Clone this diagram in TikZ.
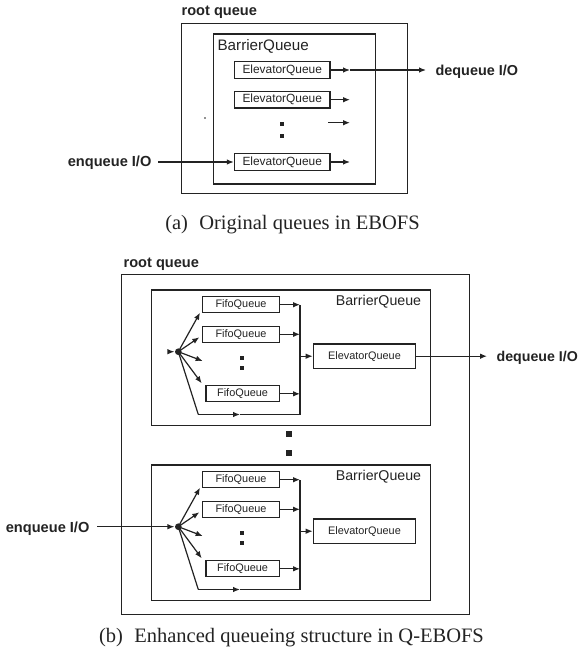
\documentclass[tikz,border=0pt]{standalone}
\usepackage{fontspec}
\setmainfont{Liberation Serif}
\setsansfont{Liberation Sans}
\usetikzlibrary{arrows.meta}
\definecolor{ink}{RGB}{35,35,35}
\begin{document}
\begin{tikzpicture}[x=1pt,y=-1pt,line width=1.2pt,draw=ink,text=ink,
  frame/.style={draw=ink,line width=1.2pt,inner sep=0pt,anchor=north west},
  qbox/.style={draw=ink,line width=1.2pt,inner sep=0pt,font=\sffamily\fontsize{10.9}{11}\selectfont},
  ebox/.style={qbox,font=\sffamily\fontsize{11.9}{12}\selectfont,minimum width=95.7pt,minimum height=16.6pt},
  lbl/.style={inner sep=0pt,font=\sffamily\bfseries\fontsize{14.6}{15}\selectfont},
  captext/.style={inner sep=0pt,font=\fontsize{20.5}{21}\selectfont,anchor=base},
  arr/.style={-{Latex[length=7pt,width=5.6pt]}},
  sq/.style={fill=ink,draw=none,inner sep=0pt,minimum size=#1},
  hubdot/.style={circle,fill=ink,draw=none,inner sep=0pt,minimum size=6.6pt}]
\useasboundingbox (0,0) rectangle (580,657);

% ---------------- (a) ----------------
\node[lbl,anchor=base west] (rootlblA) at (181,15.5) {root queue};
\node[frame,minimum width=226pt,minimum height=170pt] (rootA) at (181,22.5) {};
\node[frame,minimum width=162.3pt,minimum height=150pt] (barA) at (212.7,33.3) {};
\node[inner sep=0pt,anchor=base west,font=\sffamily\fontsize{15.2}{16}\selectfont] (barlblA) at (217,50) {BarrierQueue};
\node[ebox] (e1) at (282.2,70) {ElevatorQueue};
\node[ebox] (e2) at (282.2,99.7) {ElevatorQueue};
\node[ebox] (e3) at (282.2,162) {ElevatorQueue};
\coordinate (m1) at (350,70);
\coordinate (deqA) at (426,70);
\coordinate (m2) at (350,99.7);
\coordinate (r3s) at (328,122.7);
\coordinate (r3e) at (350,122.7);
\coordinate (m3) at (350,162);
\coordinate (enqA) at (158,162);
\draw[arr] (e1.east) -- (m1);
\draw[arr] (m1) -- (deqA);
\draw[arr] (e2.east) -- (m2);
\draw[arr] (r3s) -- (r3e);
\draw[arr] (e3.east) -- (m3);
\draw[arr] (enqA) -- (e3.west);
\node[lbl,anchor=base west,font=\sffamily\bfseries\fontsize{14.4}{15}\selectfont] (deqlblA) at (435,75.3) {dequeue I/O};
\node[lbl,anchor=base east] (enqlblA) at (152,166.5) {enqueue I/O};
\node[sq=3.8pt] (dA1) at (282.3,124.3) {};
\node[sq=3.8pt] (dA2) at (282.3,135.7) {};
\node[circle,fill=ink,inner sep=0pt,minimum size=1.6pt] (stray) at (205,118) {};
\node[captext] (capA) at (292.5,229.5) {(a)\hspace{0.55em}Original queues in EBOFS};

% ---------------- (b) ----------------
\node[lbl,anchor=base west] (rootlblB) at (123,267) {root queue};
\node[frame,minimum width=348.3pt,minimum height=340pt] (rootB) at (120.7,274) {};
\foreach \k/\dy in {a/0,b/175}{
  \begin{scope}[shift={(0,\dy)}]
    \node[frame,minimum width=278.5pt,minimum height=135.7pt] (bar\k) at (151,289.3) {};
    \node[inner sep=0pt,anchor=base east,font=\sffamily\fontsize{14.2}{15}\selectfont] (barlbl\k) at (421.7,305) {BarrierQueue};
    \node[qbox,minimum width=76.6pt,minimum height=16pt] (f\k1) at (241,304.7) {FifoQueue};
    \node[qbox,minimum width=76.6pt,minimum height=16pt] (f\k2) at (241,334.3) {FifoQueue};
    \node[qbox,minimum width=73.3pt,minimum height=16pt] (f\k3) at (242.6,393.8) {FifoQueue};
    \node[qbox,minimum width=102.4pt,minimum height=24.3pt] (el\k) at (364.5,356.2) {ElevatorQueue};
    \node[hubdot] (hub\k) at (178.3,351.7) {};
    \coordinate (t\k1) at (200,312.7);
    \coordinate (t\k2) at (199.3,337.3);
    \coordinate (t\k3) at (202.7,361);
    \coordinate (t\k4) at (201.7,383.3);
    \coordinate (bl\k) at (198.3,414.5);
    \coordinate (bm\k) at (240,414.5);
    \coordinate (cb\k) at (300,414.5);
    \coordinate (ct\k) at (300,304.7);
    \coordinate (ce\k) at (300,356.2);
    \draw[arr] (hub\k.center) -- (t\k1);
    \draw[arr] (hub\k.center) -- (t\k2);
    \draw[arr] (hub\k.center) -- (t\k3);
    \draw[arr] (hub\k.center) -- (t\k4);
    \draw (hub\k.center) -- (bl\k);
    \draw[arr] (bl\k) -- (bm\k);
    \draw (bm\k) -- (cb\k) -- (ct\k);
    \draw[arr] (f\k1.east) -- (f\k1.east -| ct\k);
    \draw[arr] (f\k2.east) -- (f\k2.east -| ct\k);
    \draw[arr] (f\k3.east) -- (f\k3.east -| ct\k);
    \draw[arr] (ce\k) -- (el\k.west);
    \node[sq=3.8pt] (dd\k1) at (241.7,357.7) {};
    \node[sq=3.8pt] (dd\k2) at (241.7,368.3) {};
  \end{scope}
}
\coordinate (stub) at (171,351.7);
\draw[arr] (stub) -- (huba.west);
\coordinate (deqB) at (487,356.2);
\draw[arr] (ela.east) -- (deqB);
\node[lbl,anchor=base west,font=\sffamily\bfseries\fontsize{14.2}{15}\selectfont] (deqlblB) at (496,361.5) {dequeue I/O};
\coordinate (enqB) at (97,526.7);
\draw[arr] (enqB) -- (hubb.west);
\node[lbl,anchor=base east] (enqlblB) at (90,532) {enqueue I/O};
\node[sq=6pt] (sep1) at (289.3,434) {};
\node[sq=6pt] (sep2) at (289.3,453.3) {};
\node[captext] (capB) at (291.5,642) {(b)\hspace{0.55em}Enhanced queueing structure in Q-EBOFS};
\end{tikzpicture}
\end{document}
